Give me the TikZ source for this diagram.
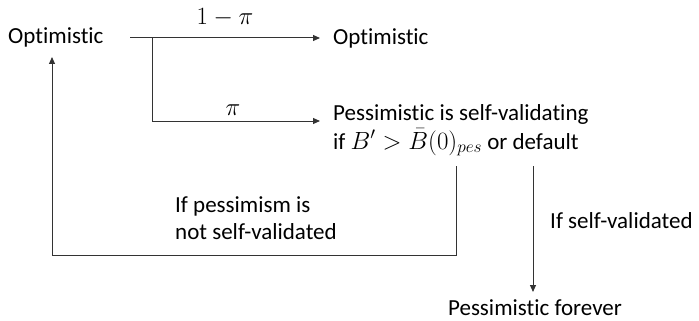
\documentclass[tikz,border=0pt]{standalone}
\usepackage{fontspec}
\setmainfont{Carlito}[Ligatures={NoCommon}]
\usetikzlibrary{arrows.meta}
\begin{document}
\begin{tikzpicture}[x=1pt,y=-1pt,
  lbl/.style={inner sep=0pt, anchor=base west, font=\fontsize{23}{28}\selectfont},
  conn/.style={line width=1pt, draw=black!80},
  arr/.style={conn, -{Triangle[length=7pt,width=6pt]}}]
\useasboundingbox (0,0) rectangle (699,321);
\node[lbl] (opt1) at (8,44) {Optimistic};
\node[lbl] (opt2) at (333,45) {Optimistic};
\node[lbl] (pes1) at (333,120) {Pessimistic is self-validating};
\node[lbl] (pes2) at (333,149) {if \(B' > \bar{B}(0)_{pes}\) or default};
\node[lbl] (ifp1) at (175,212) {If pessimism is};
\node[lbl] (ifp2) at (175,239) {not self-validated};
\node[lbl] (ifs) at (550,228) {If self-validated};
\node[lbl, anchor=base] (forever) at (535,315) {Pessimistic forever};
\node[lbl, anchor=base] (p1) at (225,25) {\(1-\pi\)};
\node[lbl, anchor=base] (p2) at (233,115) {\(\pi\)};
\coordinate (s) at (130,38);
\coordinate (b) at (152,38);
\coordinate (b2) at (152,121);
\coordinate (l1) at (456,166);
\coordinate (lp) at (52,57);
\coordinate (r1) at (533,166);
\coordinate (rt) at (533,292);
\draw[arr] (s) -- ([xshift=-13pt]opt2.west |- s);
\draw[arr] (b) -- (b2) -- ([xshift=-13pt]pes1.west |- b2);
\draw[arr] (l1) -- ++(0,89) -| (lp);
\draw[arr] (r1) -- (rt);
\end{tikzpicture}
\end{document}
